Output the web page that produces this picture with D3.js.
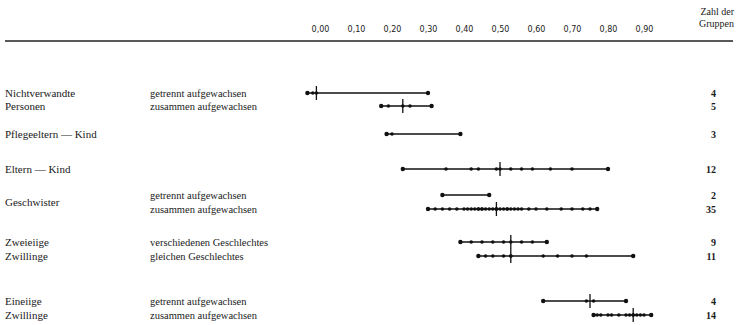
<!DOCTYPE html>
<html>
<head>
<meta charset="utf-8">
<script src="https://cdn.jsdelivr.net/npm/d3@7"></script>
<style>
  body { margin: 0; background: #fff; }
  text { fill: #1a1a1a; }
</style>
</head>
<body>
<div id="chart"></div>
<script>
// Korrelationen der Intelligenz nach Verwandtschaftsgrad
const rowKeys = ['nvG', 'nvZ', 'pe', 'ek', 'gsG', 'gsZ', 'dzV', 'dzG', 'mzG', 'mzZ'];
const subLabels = [
  'getrennt aufgewachsen', 'zusammen aufgewachsen', '', '',
  'getrennt aufgewachsen', 'zusammen aufgewachsen',
  'verschiedenen Geschlechtes', 'gleichen Geschlechtes',
  'getrennt aufgewachsen', 'zusammen aufgewachsen'
];
const relationLabels = ['Nichtverwandte', 'Personen', 'Pflegeeltern — Kind', 'Eltern — Kind',
  'Geschwister', 'Zweieiige', 'Zwillinge', 'Eineiige', 'Zwillinge'];
const relationRows = [[0], [1], [2], [3], [4, 5], [6], [7], [8], [9]];
const groupCounts = [4, 5, 3, 12, 2, 35, 9, 11, 4, 14];
const tickValues = [0, 0.1, 0.2, 0.3, 0.4, 0.5, 0.6, 0.7, 0.8, 0.9];

const correlations = [
  [-0.035, -0.02, -0.01, 0.30],
  [0.17, 0.19, 0.23, 0.25, 0.31],
  [0.185, 0.20, 0.39],
  [0.23, 0.35, 0.42, 0.44, 0.49, 0.50, 0.53, 0.56, 0.59, 0.64, 0.70, 0.80],
  [0.34, 0.47],
  [0.30, 0.32, 0.34, 0.36, 0.38, 0.40, 0.41, 0.42, 0.43, 0.44, 0.44, 0.45, 0.45, 0.46, 0.47,
   0.48, 0.49, 0.49, 0.49, 0.50, 0.51, 0.52, 0.52, 0.53, 0.54, 0.55, 0.56, 0.58, 0.60, 0.63,
   0.67, 0.70, 0.73, 0.75, 0.77],
  [0.39, 0.42, 0.45, 0.48, 0.51, 0.53, 0.56, 0.59, 0.63],
  [0.44, 0.46, 0.48, 0.51, 0.53, 0.53, 0.62, 0.66, 0.70, 0.74, 0.87],
  [0.62, 0.74, 0.76, 0.85],
  [0.76, 0.77, 0.78, 0.80, 0.81, 0.83, 0.85, 0.86, 0.87, 0.87, 0.88, 0.89, 0.90, 0.92]
];
const medians = [-0.01, 0.23, null, 0.50, null, 0.49, 0.53, 0.53, 0.75, 0.87];

// layout
const width = 737, height = 325;
const rowY = [93, 106, 134, 169, 195, 209, 242, 256, 301, 315];

const svg = d3.select('#chart').append('svg')
  .attr('width', width)
  .attr('height', height);

const x = d3.scaleLinear().domain([0, 0.9]).range([320, 644]);
const y = d3.scaleOrdinal().domain(rowKeys).range(rowY);

// Kopfzeile
const axis = d3.axisTop(x)
  .tickValues(tickValues)
  .tickSize(0)
  .tickFormat(d => d3.format('.2f')(d).replace('.', ','));

const axisG = svg.append('g')
  .attr('transform', 'translate(0,29)')
  .call(axis);
axisG.select('.domain').remove();
axisG.selectAll('text')
  .attr('dy', '0.35em')
  .attr('y', 0)
  .style('font-family', '"DejaVu Sans", sans-serif')
  .style('font-size', '8px')
  .style('fill', '#1a1a1a');

svg.append('text')
  .attr('x', 734).attr('y', 15)
  .attr('text-anchor', 'end')
  .style('font-family', '"Liberation Serif", serif')
  .style('font-size', '10px')
  .text('Zahl der');
svg.append('text')
  .attr('x', 734).attr('y', 27)
  .attr('text-anchor', 'end')
  .style('font-family', '"Liberation Serif", serif')
  .style('font-size', '10px')
  .text('Gruppen');

svg.append('line')
  .attr('x1', 5).attr('x2', 733)
  .attr('y1', 41).attr('y2', 41)
  .style('stroke', '#222')
  .style('stroke-width', 1.5);

// Beschriftungen links
svg.selectAll('text.relation')
  .data(relationLabels)
  .enter().append('text')
  .attr('class', 'relation')
  .attr('x', 5)
  .attr('y', (d, i) => d3.mean(relationRows[i], r => y(rowKeys[r])))
  .attr('dy', '0.35em')
  .style('font-family', '"Liberation Serif", serif')
  .style('font-size', '11px')
  .text(d => d);

svg.selectAll('text.sub')
  .data(subLabels)
  .enter().append('text')
  .attr('class', 'sub')
  .attr('x', 150)
  .attr('y', (d, i) => y(rowKeys[i]))
  .attr('dy', '0.35em')
  .style('font-family', '"Liberation Serif", serif')
  .style('font-size', '10.5px')
  .text(d => d);

svg.selectAll('text.count')
  .data(groupCounts)
  .enter().append('text')
  .attr('class', 'count')
  .attr('x', 716)
  .attr('y', (d, i) => y(rowKeys[i]))
  .attr('dy', '0.35em')
  .attr('text-anchor', 'end')
  .style('font-family', '"Liberation Serif", serif')
  .style('font-size', '10px')
  .style('font-weight', 'bold')
  .text(d => d);

// Bereiche, Einzelwerte und Mediane
rowKeys.forEach((key, i) => {
  const vals = correlations[i];
  const cy = y(key);
  const g = svg.append('g');

  g.append('line')
    .attr('x1', x(d3.min(vals)))
    .attr('x2', x(d3.max(vals)))
    .attr('y1', cy).attr('y2', cy)
    .style('stroke', '#111')
    .style('stroke-width', 1.3);

  g.selectAll('circle')
    .data(vals)
    .enter().append('circle')
    .attr('cx', d => x(d))
    .attr('cy', cy)
    .attr('r', (d, j) => (j === 0 || j === vals.length - 1) ? 2.2 : 1.8)
    .style('fill', '#111');

  if (medians[i] !== null) {
    g.append('line')
      .attr('x1', x(medians[i])).attr('x2', x(medians[i]))
      .attr('y1', cy - 7).attr('y2', cy + 7)
      .style('stroke', '#111')
      .style('stroke-width', 1.3);
  }
});
</script>
</body>
</html>
